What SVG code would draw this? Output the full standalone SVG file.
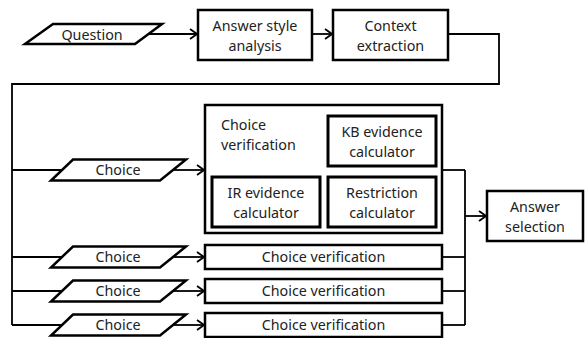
<svg xmlns="http://www.w3.org/2000/svg" width="586" height="338" viewBox="0 0 586 338">
<style>
.box{fill:#fff;stroke:#000;stroke-width:2.5}
.inner{fill:#fff;stroke:#000;stroke-width:3}
.para{fill:#fff;stroke:#000;stroke-width:2.5;stroke-linejoin:miter}
.ln{fill:none;stroke:#000;stroke-width:1.8}
.t{font-family:"Noto Sans","DejaVu Sans",sans-serif;font-size:14.3px;fill:#222}
.c{text-anchor:middle}
</style>
<defs>
<marker id="arr" viewBox="0 0 10 12" refX="9" refY="6" markerWidth="10" markerHeight="12" markerUnits="userSpaceOnUse" orient="auto">
<polyline points="2,1 9,6 2,11" fill="none" stroke="#000" stroke-width="1.8"/>
</marker>
</defs>
<g id="connectors">
<line class="ln" x1="148" y1="34" x2="197" y2="34" marker-end="url(#arr)"/>
<line class="ln" x1="312" y1="34" x2="332" y2="34" marker-end="url(#arr)"/>
<polyline class="ln" points="448,34 499,34 499,84 12,84 12,325"/>
<line class="ln" x1="12" y1="170" x2="62" y2="170"/>
<line class="ln" x1="12" y1="257" x2="62" y2="257"/>
<line class="ln" x1="12" y1="291" x2="62" y2="291"/>
<line class="ln" x1="12" y1="325" x2="62" y2="325"/>
<line class="ln" x1="173" y1="170" x2="204" y2="170" marker-end="url(#arr)"/>
<line class="ln" x1="173" y1="257" x2="204" y2="257" marker-end="url(#arr)"/>
<line class="ln" x1="173" y1="291" x2="204" y2="291" marker-end="url(#arr)"/>
<line class="ln" x1="173" y1="325" x2="204" y2="325" marker-end="url(#arr)"/>
<line class="ln" x1="442" y1="170" x2="465" y2="170"/>
<line class="ln" x1="442" y1="257" x2="465" y2="257"/>
<line class="ln" x1="442" y1="291" x2="465" y2="291"/>
<line class="ln" x1="442" y1="325" x2="465" y2="325"/>
<line class="ln" x1="465" y1="170" x2="465" y2="325"/>
<line class="ln" x1="465" y1="216" x2="486" y2="216" marker-end="url(#arr)"/>
</g>
<g id="question">
<polygon class="para" points="53,24 162,24 135,44 25,44"/>
<text class="t c" x="92" y="39.5">Question</text>
</g>
<g id="answer-style">
<rect class="box" x="198" y="10" width="114" height="50"/>
<text class="t c" x="255" y="30.5">Answer style</text>
<text class="t c" x="255" y="50.5">analysis</text>
</g>
<g id="context">
<rect class="box" x="333" y="10" width="115" height="50"/>
<text class="t c" x="390.5" y="30.5">Context</text>
<text class="t c" x="390.5" y="50.5">extraction</text>
</g>
<g id="choice1">
<polygon class="para" points="73,159.5 186,159.5 160,180.5 51,180.5"/>
<text class="t c" x="118" y="175">Choice</text>
</g>
<g id="choice-verification-1">
<rect class="box" x="205" y="105" width="237" height="128"/>
<text class="t" x="221" y="129.5">Choice</text>
<text class="t" x="221" y="149.5">verification</text>
</g>
<g id="kb">
<rect class="inner" x="328" y="116" width="108" height="50"/>
<text class="t c" x="382" y="137">KB evidence</text>
<text class="t c" x="382" y="157">calculator</text>
</g>
<g id="ir">
<rect class="inner" x="212" y="177" width="108" height="50"/>
<text class="t c" x="266" y="198">IR evidence</text>
<text class="t c" x="266" y="218">calculator</text>
</g>
<g id="restriction">
<rect class="inner" x="328" y="177" width="108" height="50"/>
<text class="t c" x="382" y="198">Restriction</text>
<text class="t c" x="382" y="218">calculator</text>
</g>
<g id="answer-selection">
<rect class="box" x="487" y="191" width="96" height="50"/>
<text class="t c" x="535" y="212">Answer</text>
<text class="t c" x="535" y="232">selection</text>
</g>
<g id="choice2">
<polygon class="para" points="73,246.5 186,246.5 160,267.5 51,267.5"/>
<text class="t c" x="118" y="262">Choice</text>
</g>
<g id="choice-verification-2">
<rect class="box" x="205" y="245" width="237" height="24"/>
<text class="t c" x="323.5" y="262">Choice verification</text>
</g>
<g id="choice3">
<polygon class="para" points="73,280.5 186,280.5 160,301.5 51,301.5"/>
<text class="t c" x="118" y="296">Choice</text>
</g>
<g id="choice-verification-3">
<rect class="box" x="205" y="279" width="237" height="24"/>
<text class="t c" x="323.5" y="296">Choice verification</text>
</g>
<g id="choice4">
<polygon class="para" points="73,314.5 186,314.5 160,335.5 51,335.5"/>
<text class="t c" x="118" y="330">Choice</text>
</g>
<g id="choice-verification-4">
<rect class="box" x="205" y="313" width="237" height="24"/>
<text class="t c" x="323.5" y="330">Choice verification</text>
</g>
</svg>
